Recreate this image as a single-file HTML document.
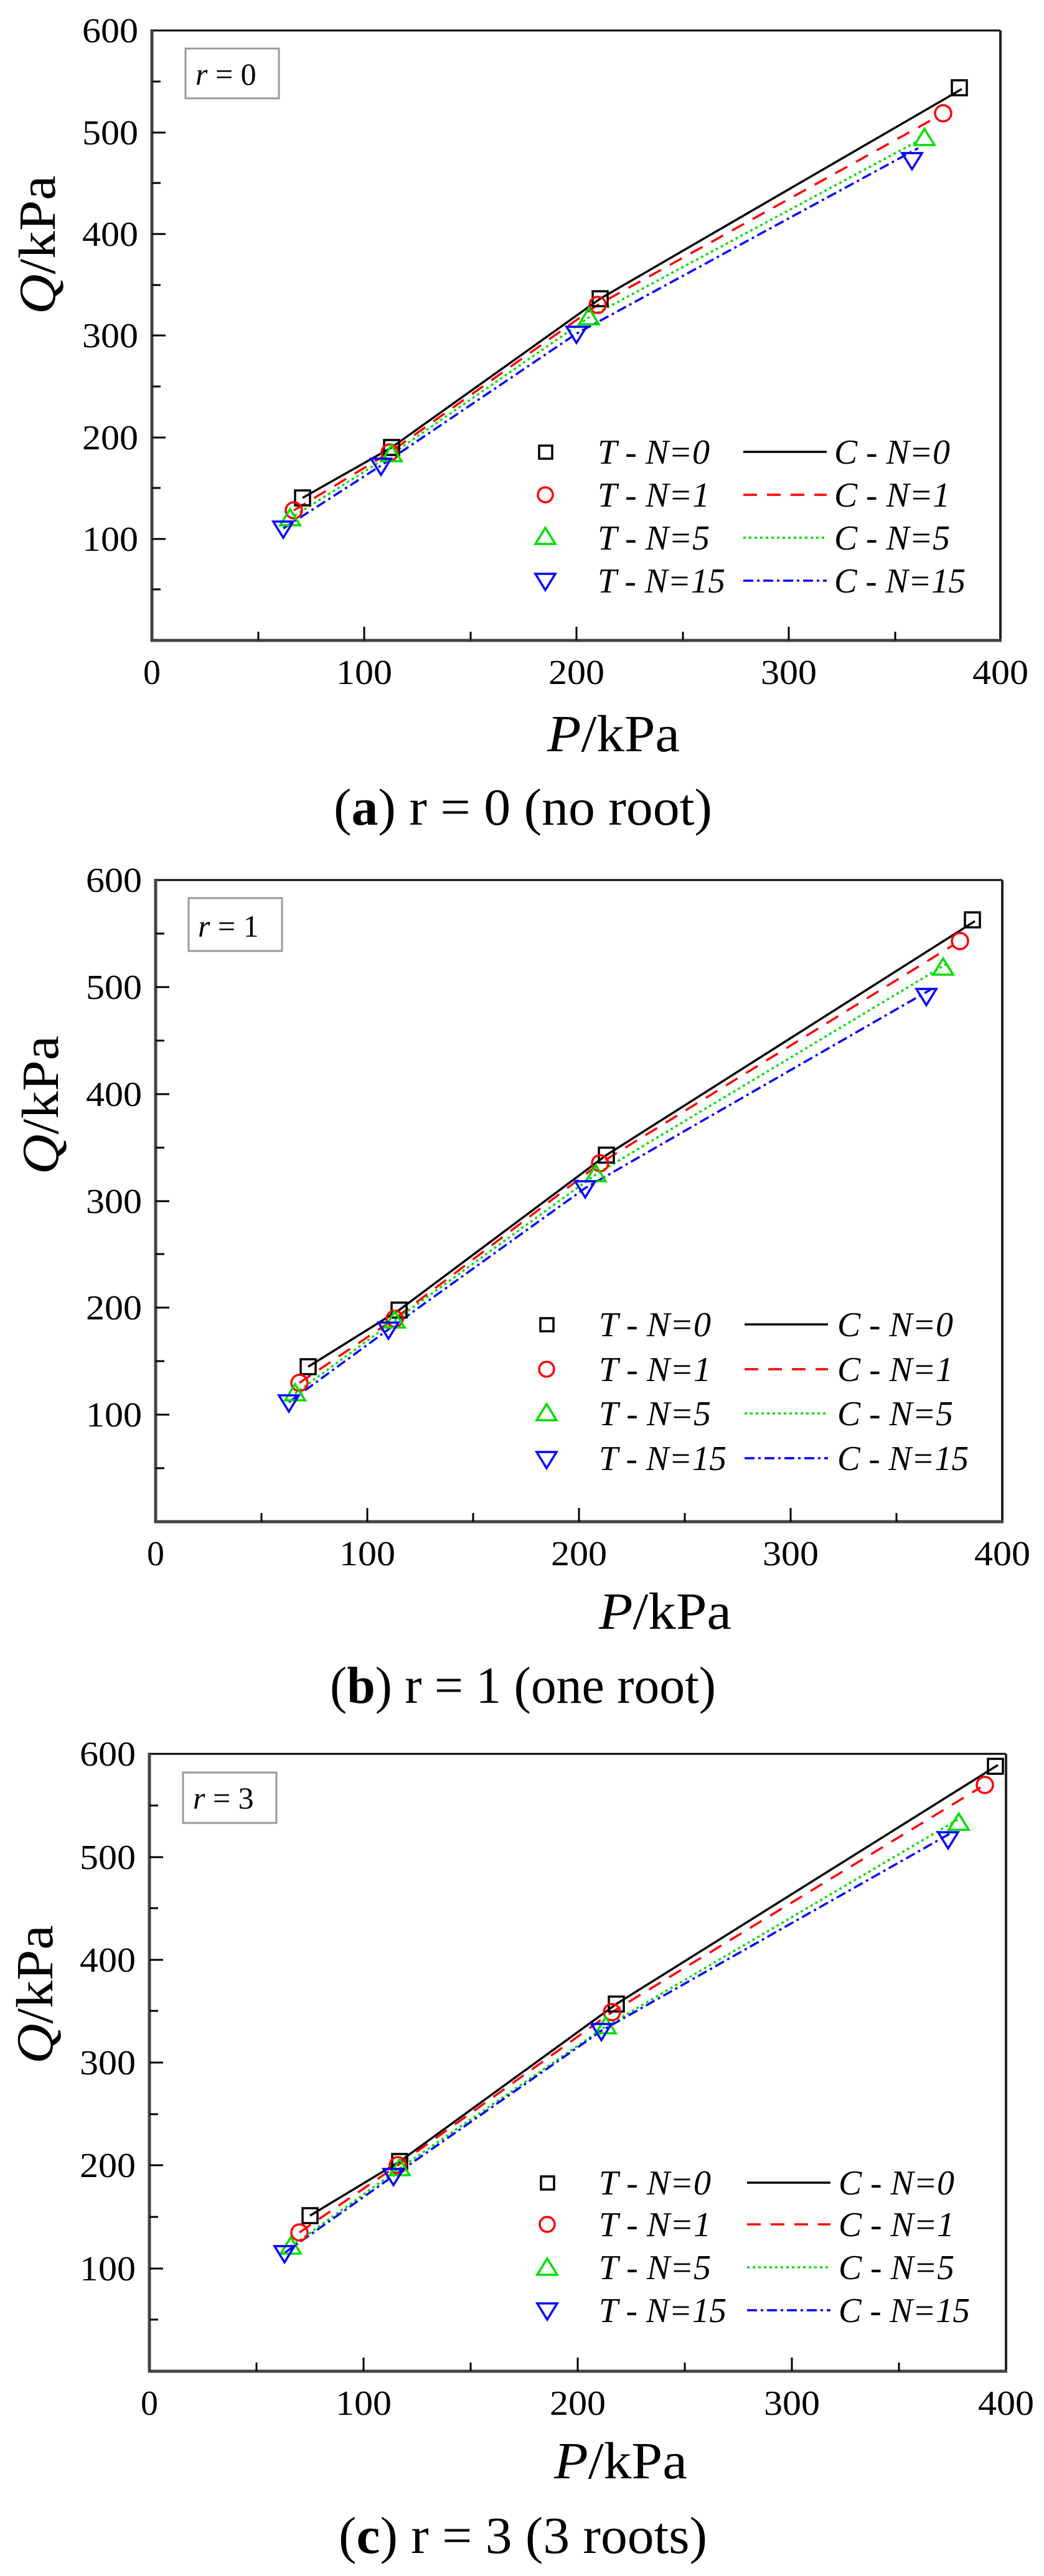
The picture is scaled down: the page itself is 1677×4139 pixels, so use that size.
<!DOCTYPE html>
<html><head><meta charset="utf-8"><style>
html,body{margin:0;padding:0;background:#fff;}
svg{display:block;}
text{font-family:"Liberation Serif",serif;fill:#000;}
.tk{font-size:56px;}
.lg{font-size:56px;font-style:italic;}
</style></head><body>
<svg width="1677" height="4139" viewBox="0 0 1677 4139" xmlns="http://www.w3.org/2000/svg">
<rect width="1677" height="4139" fill="#fff"/>

<!-- ============ PANEL A ============ -->
<g>
<line x1="244" y1="49" x2="1607" y2="49" stroke="#000" stroke-width="3"/>
<line x1="1607" y1="49" x2="1607" y2="1029" stroke="#222" stroke-width="4"/>
<line x1="244" y1="47" x2="244" y2="1031" stroke="#444" stroke-width="5"/>
<line x1="242" y1="1029" x2="1609" y2="1029" stroke="#444" stroke-width="5"/>
<!-- y ticks -->
<g stroke="#000" stroke-width="3">
<line x1="244" y1="866" x2="266" y2="866"/><line x1="244" y1="703" x2="266" y2="703"/><line x1="244" y1="539" x2="266" y2="539"/><line x1="244" y1="376" x2="266" y2="376"/><line x1="244" y1="213" x2="266" y2="213"/>
<line x1="244" y1="947" x2="258" y2="947"/><line x1="244" y1="784" x2="258" y2="784"/><line x1="244" y1="621" x2="258" y2="621"/><line x1="244" y1="458" x2="258" y2="458"/><line x1="244" y1="294" x2="258" y2="294"/><line x1="244" y1="131" x2="258" y2="131"/>
<line x1="585" y1="1029" x2="585" y2="1007"/><line x1="926" y1="1029" x2="926" y2="1007"/><line x1="1267" y1="1029" x2="1267" y2="1007"/>
<line x1="415" y1="1029" x2="415" y2="1015"/><line x1="756" y1="1029" x2="756" y2="1015"/><line x1="1097" y1="1029" x2="1097" y2="1015"/><line x1="1438" y1="1029" x2="1438" y2="1015"/>
</g>
<g class="tk" text-anchor="end">
<text x="222" y="885" textLength="90" lengthAdjust="spacingAndGlyphs">100</text>
<text x="222" y="722" textLength="90" lengthAdjust="spacingAndGlyphs">200</text>
<text x="222" y="558" textLength="90" lengthAdjust="spacingAndGlyphs">300</text>
<text x="222" y="395" textLength="90" lengthAdjust="spacingAndGlyphs">400</text>
<text x="222" y="232" textLength="90" lengthAdjust="spacingAndGlyphs">500</text>
<text x="222" y="68" textLength="90" lengthAdjust="spacingAndGlyphs">600</text>
</g>
<g class="tk" text-anchor="middle">
<text x="244" y="1099">0</text>
<text x="585" y="1099" textLength="90" lengthAdjust="spacingAndGlyphs">100</text>
<text x="926" y="1099" textLength="90" lengthAdjust="spacingAndGlyphs">200</text>
<text x="1267" y="1099" textLength="90" lengthAdjust="spacingAndGlyphs">300</text>
<text x="1607" y="1099" textLength="90" lengthAdjust="spacingAndGlyphs">400</text>
</g>
<text transform="translate(88,505) rotate(-90)" font-size="84" textLength="223" lengthAdjust="spacingAndGlyphs"><tspan font-style="italic">Q</tspan>/kPa</text>
<text x="879" y="1207" font-size="84" textLength="213" lengthAdjust="spacingAndGlyphs"><tspan font-style="italic">P</tspan>/kPa</text>
<text x="536" y="1325" font-size="84" textLength="608" lengthAdjust="spacingAndGlyphs">(<tspan font-weight="bold">a</tspan>) r = 0 (no root)</text>
<rect x="298" y="78" width="150" height="80" fill="#fff" stroke="#999" stroke-width="3"/>
<text x="314" y="136" font-size="50"><tspan font-style="italic">r</tspan> = 0</text>
<!-- lines -->
<g fill="none" stroke-width="3.5">
<polyline points="486,800 629,719 964,480 1545,143" stroke="#000"/>
<polyline points="472,820 626,727 960,490 1505,188" stroke="#f00" stroke-dasharray="22,16"/>
<polyline points="466,833 629,730 946,510 1470,229" stroke="#0d0" stroke-dasharray="4,5"/>
<polyline points="455,849 612,748 926,536 1475,238" stroke="#00f" stroke-dasharray="16,6,4,6"/>
</g>
<g fill="none" stroke-width="3.5">
<rect x="474" y="788" width="24" height="24" stroke="#000"/><rect x="617" y="707" width="24" height="24" stroke="#000"/><rect x="952" y="468" width="24" height="24" stroke="#000"/><rect x="1529" y="129" width="24" height="24" stroke="#000"/>
<circle cx="472" cy="820" r="13" stroke="#f00"/><circle cx="626" cy="727" r="13" stroke="#f00"/><circle cx="960" cy="490" r="13" stroke="#f00"/><circle cx="1515" cy="182" r="13" stroke="#f00"/>
<polygon points="466,818 482,844 450,844" stroke="#0d0"/><polygon points="629,715 645,741 613,741" stroke="#0d0"/><polygon points="946,495 962,521 930,521" stroke="#0d0"/><polygon points="1485,207 1501,233 1469,233" stroke="#0d0"/>
<polygon points="455,864 471,838 439,838" stroke="#00f"/><polygon points="612,763 628,737 596,737" stroke="#00f"/><polygon points="926,551 942,525 910,525" stroke="#00f"/><polygon points="1465,272 1481,246 1449,246" stroke="#00f"/>
</g>
<!-- legend -->
<g fill="none" stroke-width="3.5">
<rect x="866" y="716" width="21" height="21" stroke="#000"/>
<circle cx="876" cy="795" r="12" stroke="#f00"/>
<polygon points="876,848 892,874 860,874" stroke="#0d0"/>
<polygon points="876,948 892,922 860,922" stroke="#00f"/>
<line x1="1194" y1="726" x2="1328" y2="726" stroke="#000"/>
<line x1="1194" y1="795" x2="1328" y2="795" stroke="#f00" stroke-dasharray="22,16"/>
<line x1="1194" y1="864" x2="1328" y2="864" stroke="#0d0" stroke-dasharray="4,5"/>
<line x1="1194" y1="933" x2="1328" y2="933" stroke="#00f" stroke-dasharray="16,6,4,6"/>
</g>
<g class="lg">
<text x="960" y="745" textLength="180" lengthAdjust="spacingAndGlyphs">T - N=0</text>
<text x="960" y="814" textLength="180" lengthAdjust="spacingAndGlyphs">T - N=1</text>
<text x="960" y="883" textLength="180" lengthAdjust="spacingAndGlyphs">T - N=5</text>
<text x="960" y="952" textLength="205" lengthAdjust="spacingAndGlyphs">T - N=15</text>
<text x="1340" y="745" textLength="186" lengthAdjust="spacingAndGlyphs">C - N=0</text>
<text x="1340" y="814" textLength="186" lengthAdjust="spacingAndGlyphs">C - N=1</text>
<text x="1340" y="883" textLength="186" lengthAdjust="spacingAndGlyphs">C - N=5</text>
<text x="1340" y="952" textLength="211" lengthAdjust="spacingAndGlyphs">C - N=15</text>
</g>
</g>

<!-- ============ PANEL B ============ -->
<g>
<line x1="250" y1="1414" x2="1610" y2="1414" stroke="#000" stroke-width="3"/>
<line x1="1610" y1="1414" x2="1610" y2="2445" stroke="#222" stroke-width="4"/>
<line x1="250" y1="1412" x2="250" y2="2447" stroke="#444" stroke-width="5"/>
<line x1="248" y1="2445" x2="1612" y2="2445" stroke="#444" stroke-width="5"/>
<g stroke="#000" stroke-width="3">
<line x1="250" y1="2273" x2="272" y2="2273"/><line x1="250" y1="2101" x2="272" y2="2101"/><line x1="250" y1="1930" x2="272" y2="1930"/><line x1="250" y1="1758" x2="272" y2="1758"/><line x1="250" y1="1586" x2="272" y2="1586"/>
<line x1="250" y1="2359" x2="264" y2="2359"/><line x1="250" y1="2187" x2="264" y2="2187"/><line x1="250" y1="2015" x2="264" y2="2015"/><line x1="250" y1="1844" x2="264" y2="1844"/><line x1="250" y1="1672" x2="264" y2="1672"/><line x1="250" y1="1500" x2="264" y2="1500"/>
<line x1="590" y1="2445" x2="590" y2="2423"/><line x1="930" y1="2445" x2="930" y2="2423"/><line x1="1270" y1="2445" x2="1270" y2="2423"/>
<line x1="420" y1="2445" x2="420" y2="2431"/><line x1="760" y1="2445" x2="760" y2="2431"/><line x1="1100" y1="2445" x2="1100" y2="2431"/><line x1="1440" y1="2445" x2="1440" y2="2431"/>
</g>
<g class="tk" text-anchor="end">
<text x="228" y="2292" textLength="90" lengthAdjust="spacingAndGlyphs">100</text>
<text x="228" y="2120" textLength="90" lengthAdjust="spacingAndGlyphs">200</text>
<text x="228" y="1949" textLength="90" lengthAdjust="spacingAndGlyphs">300</text>
<text x="228" y="1777" textLength="90" lengthAdjust="spacingAndGlyphs">400</text>
<text x="228" y="1605" textLength="90" lengthAdjust="spacingAndGlyphs">500</text>
<text x="228" y="1433" textLength="90" lengthAdjust="spacingAndGlyphs">600</text>
</g>
<g class="tk" text-anchor="middle">
<text x="250" y="2515">0</text>
<text x="590" y="2515" textLength="90" lengthAdjust="spacingAndGlyphs">100</text>
<text x="930" y="2515" textLength="90" lengthAdjust="spacingAndGlyphs">200</text>
<text x="1270" y="2515" textLength="90" lengthAdjust="spacingAndGlyphs">300</text>
<text x="1610" y="2515" textLength="90" lengthAdjust="spacingAndGlyphs">400</text>
</g>
<text transform="translate(93,1887) rotate(-90)" font-size="84" textLength="223" lengthAdjust="spacingAndGlyphs"><tspan font-style="italic">Q</tspan>/kPa</text>
<text x="962" y="2617" font-size="84" textLength="213" lengthAdjust="spacingAndGlyphs"><tspan font-style="italic">P</tspan>/kPa</text>
<text x="530" y="2736" font-size="84" textLength="620" lengthAdjust="spacingAndGlyphs">(<tspan font-weight="bold">b</tspan>) r = 1 (one root)</text>
<rect x="303" y="1443" width="150" height="85" fill="#fff" stroke="#999" stroke-width="3"/>
<text x="318" y="1505" font-size="50"><tspan font-style="italic">r</tspan> = 1</text>
<g fill="none" stroke-width="3.5">
<polyline points="495,2196 641,2105 974,1856 1566,1480" stroke="#000"/>
<polyline points="481,2222 634,2119 964,1869 1532,1518" stroke="#f00" stroke-dasharray="22,16"/>
<polyline points="474,2239 634,2122 957,1887 1522,1548" stroke="#0d0" stroke-dasharray="4,5"/>
<polyline points="464,2253 624,2136 940,1909 1495,1590" stroke="#00f" stroke-dasharray="16,6,4,6"/>
</g>
<g fill="none" stroke-width="3.5">
<rect x="483" y="2184" width="24" height="24" stroke="#000"/><rect x="629" y="2093" width="24" height="24" stroke="#000"/><rect x="962" y="1844" width="24" height="24" stroke="#000"/><rect x="1550" y="1466" width="24" height="24" stroke="#000"/>
<circle cx="481" cy="2222" r="13" stroke="#f00"/><circle cx="634" cy="2119" r="13" stroke="#f00"/><circle cx="964" cy="1869" r="13" stroke="#f00"/><circle cx="1542" cy="1512" r="13" stroke="#f00"/>
<polygon points="474,2224 490,2250 458,2250" stroke="#0d0"/><polygon points="634,2107 650,2133 618,2133" stroke="#0d0"/><polygon points="957,1872 973,1898 941,1898" stroke="#0d0"/><polygon points="1515,1540 1531,1566 1499,1566" stroke="#0d0"/>
<polygon points="464,2268 480,2242 448,2242" stroke="#00f"/><polygon points="624,2151 640,2125 608,2125" stroke="#00f"/><polygon points="940,1924 956,1898 924,1898" stroke="#00f"/><polygon points="1488,1615 1504,1589 1472,1589" stroke="#00f"/>
</g>
<g fill="none" stroke-width="3.5">
<rect x="868" y="2118" width="21" height="21" stroke="#000"/>
<circle cx="878" cy="2200" r="12" stroke="#f00"/>
<polygon points="878,2256 894,2282 862,2282" stroke="#0d0"/>
<polygon points="878,2359 894,2333 862,2333" stroke="#00f"/>
<line x1="1196" y1="2128" x2="1330" y2="2128" stroke="#000"/>
<line x1="1196" y1="2200" x2="1330" y2="2200" stroke="#f00" stroke-dasharray="22,16"/>
<line x1="1196" y1="2271" x2="1330" y2="2271" stroke="#0d0" stroke-dasharray="4,5"/>
<line x1="1196" y1="2343" x2="1330" y2="2343" stroke="#00f" stroke-dasharray="16,6,4,6"/>
</g>
<g class="lg">
<text x="962" y="2147" textLength="180" lengthAdjust="spacingAndGlyphs">T - N=0</text>
<text x="962" y="2219" textLength="180" lengthAdjust="spacingAndGlyphs">T - N=1</text>
<text x="962" y="2290" textLength="180" lengthAdjust="spacingAndGlyphs">T - N=5</text>
<text x="962" y="2362" textLength="205" lengthAdjust="spacingAndGlyphs">T - N=15</text>
<text x="1345" y="2147" textLength="186" lengthAdjust="spacingAndGlyphs">C - N=0</text>
<text x="1345" y="2219" textLength="186" lengthAdjust="spacingAndGlyphs">C - N=1</text>
<text x="1345" y="2290" textLength="186" lengthAdjust="spacingAndGlyphs">C - N=5</text>
<text x="1345" y="2362" textLength="211" lengthAdjust="spacingAndGlyphs">C - N=15</text>
</g>
</g>

<!-- ============ PANEL C ============ -->
<g>
<line x1="240" y1="2818" x2="1616" y2="2818" stroke="#000" stroke-width="3"/>
<line x1="1616" y1="2818" x2="1616" y2="3810" stroke="#222" stroke-width="4"/>
<line x1="240" y1="2816" x2="240" y2="3812" stroke="#444" stroke-width="5"/>
<line x1="238" y1="3810" x2="1618" y2="3810" stroke="#444" stroke-width="5"/>
<g stroke="#000" stroke-width="3">
<line x1="240" y1="3645" x2="262" y2="3645"/><line x1="240" y1="3479" x2="262" y2="3479"/><line x1="240" y1="3314" x2="262" y2="3314"/><line x1="240" y1="3149" x2="262" y2="3149"/><line x1="240" y1="2984" x2="262" y2="2984"/>
<line x1="240" y1="3727" x2="254" y2="3727"/><line x1="240" y1="3562" x2="254" y2="3562"/><line x1="240" y1="3397" x2="254" y2="3397"/><line x1="240" y1="3231" x2="254" y2="3231"/><line x1="240" y1="3066" x2="254" y2="3066"/><line x1="240" y1="2901" x2="254" y2="2901"/>
<line x1="584" y1="3810" x2="584" y2="3788"/><line x1="928" y1="3810" x2="928" y2="3788"/><line x1="1272" y1="3810" x2="1272" y2="3788"/>
<line x1="412" y1="3810" x2="412" y2="3796"/><line x1="756" y1="3810" x2="756" y2="3796"/><line x1="1100" y1="3810" x2="1100" y2="3796"/><line x1="1444" y1="3810" x2="1444" y2="3796"/>
</g>
<g class="tk" text-anchor="end">
<text x="218" y="3664" textLength="90" lengthAdjust="spacingAndGlyphs">100</text>
<text x="218" y="3498" textLength="90" lengthAdjust="spacingAndGlyphs">200</text>
<text x="218" y="3333" textLength="90" lengthAdjust="spacingAndGlyphs">300</text>
<text x="218" y="3168" textLength="90" lengthAdjust="spacingAndGlyphs">400</text>
<text x="218" y="3003" textLength="90" lengthAdjust="spacingAndGlyphs">500</text>
<text x="218" y="2837" textLength="90" lengthAdjust="spacingAndGlyphs">600</text>
</g>
<g class="tk" text-anchor="middle">
<text x="240" y="3880">0</text>
<text x="584" y="3880" textLength="90" lengthAdjust="spacingAndGlyphs">100</text>
<text x="928" y="3880" textLength="90" lengthAdjust="spacingAndGlyphs">200</text>
<text x="1272" y="3880" textLength="90" lengthAdjust="spacingAndGlyphs">300</text>
<text x="1616" y="3880" textLength="90" lengthAdjust="spacingAndGlyphs">400</text>
</g>
<text transform="translate(84,3316) rotate(-90)" font-size="84" textLength="223" lengthAdjust="spacingAndGlyphs"><tspan font-style="italic">Q</tspan>/kPa</text>
<text x="890" y="3982" font-size="84" textLength="214" lengthAdjust="spacingAndGlyphs"><tspan font-style="italic">P</tspan>/kPa</text>
<text x="544" y="4102" font-size="84" textLength="592" lengthAdjust="spacingAndGlyphs">(<tspan font-weight="bold">c</tspan>) r = 3 (3 roots)</text>
<rect x="294" y="2848" width="150" height="81" fill="#fff" stroke="#999" stroke-width="3"/>
<text x="310" y="2906" font-size="50"><tspan font-style="italic">r</tspan> = 3</text>
<g fill="none" stroke-width="3.5">
<polyline points="498,3560 642,3473 990,3220 1603,2836" stroke="#000"/>
<polyline points="481,3587 639,3479 983,3233 1575,2872" stroke="#f00" stroke-dasharray="22,16"/>
<polyline points="467,3610 642,3484 973,3256 1548,2918" stroke="#0d0" stroke-dasharray="4,5"/>
<polyline points="457,3620 632,3496 966,3263 1528,2945" stroke="#00f" stroke-dasharray="16,6,4,6"/>
</g>
<g fill="none" stroke-width="3.5">
<rect x="486" y="3548" width="24" height="24" stroke="#000"/><rect x="630" y="3461" width="24" height="24" stroke="#000"/><rect x="978" y="3208" width="24" height="24" stroke="#000"/><rect x="1587" y="2826" width="24" height="24" stroke="#000"/>
<circle cx="481" cy="3587" r="13" stroke="#f00"/><circle cx="639" cy="3479" r="13" stroke="#f00"/><circle cx="983" cy="3233" r="13" stroke="#f00"/><circle cx="1582" cy="2868" r="13" stroke="#f00"/>
<polygon points="467,3595 483,3621 451,3621" stroke="#0d0"/><polygon points="642,3469 658,3495 626,3495" stroke="#0d0"/><polygon points="973,3241 989,3267 957,3267" stroke="#0d0"/><polygon points="1540,2914 1556,2940 1524,2940" stroke="#0d0"/>
<polygon points="457,3635 473,3609 441,3609" stroke="#00f"/><polygon points="632,3511 648,3485 616,3485" stroke="#00f"/><polygon points="966,3278 982,3252 950,3252" stroke="#00f"/><polygon points="1523,2970 1539,2944 1507,2944" stroke="#00f"/>
</g>
<g fill="none" stroke-width="3.5">
<rect x="869" y="3497" width="21" height="21" stroke="#000"/>
<circle cx="879" cy="3574" r="12" stroke="#f00"/>
<polygon points="879,3629 895,3655 863,3655" stroke="#0d0"/>
<polygon points="879,3727 895,3701 863,3701" stroke="#00f"/>
<line x1="1200" y1="3507" x2="1334" y2="3507" stroke="#000"/>
<line x1="1200" y1="3574" x2="1334" y2="3574" stroke="#f00" stroke-dasharray="22,16"/>
<line x1="1200" y1="3643" x2="1334" y2="3643" stroke="#0d0" stroke-dasharray="4,5"/>
<line x1="1200" y1="3712" x2="1334" y2="3712" stroke="#00f" stroke-dasharray="16,6,4,6"/>
</g>
<g class="lg">
<text x="962" y="3526" textLength="180" lengthAdjust="spacingAndGlyphs">T - N=0</text>
<text x="962" y="3593" textLength="180" lengthAdjust="spacingAndGlyphs">T - N=1</text>
<text x="962" y="3662" textLength="180" lengthAdjust="spacingAndGlyphs">T - N=5</text>
<text x="962" y="3731" textLength="205" lengthAdjust="spacingAndGlyphs">T - N=15</text>
<text x="1347" y="3526" textLength="186" lengthAdjust="spacingAndGlyphs">C - N=0</text>
<text x="1347" y="3593" textLength="186" lengthAdjust="spacingAndGlyphs">C - N=1</text>
<text x="1347" y="3662" textLength="186" lengthAdjust="spacingAndGlyphs">C - N=5</text>
<text x="1347" y="3731" textLength="211" lengthAdjust="spacingAndGlyphs">C - N=15</text>
</g>
</g>
</svg>
</body></html>
